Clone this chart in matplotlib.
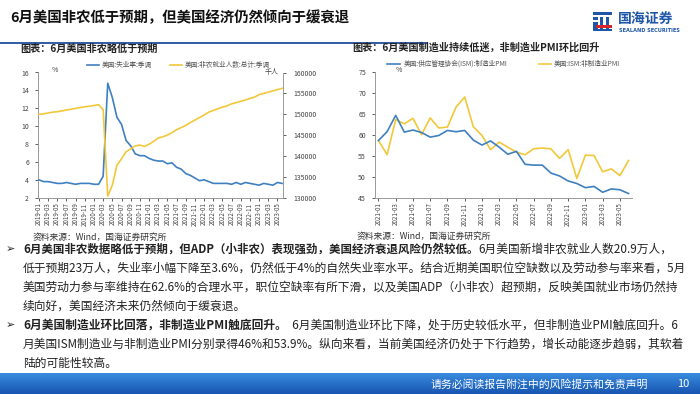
import matplotlib
matplotlib.use("Agg")
import matplotlib.pyplot as plt
from matplotlib.lines import Line2D
from matplotlib.patches import Rectangle
from matplotlib.text import Annotation
import numpy as np

plt.rcParams['font.family'] = ['Noto Sans CJK SC', 'DejaVu Sans']

# ---------------- data ----------------
unemp = [4.0, 3.8, 3.8, 3.7, 3.6, 3.6, 3.7, 3.6, 3.5, 3.6, 3.6, 3.6,
         3.5, 3.5, 4.4, 14.8, 13.2, 11.0, 10.2, 8.4, 7.8, 6.9, 6.7, 6.7,
         6.4, 6.2, 6.1, 6.1, 5.8, 5.9, 5.4, 5.2, 4.7, 4.5, 4.2, 3.9,
         4.0, 3.8, 3.6, 3.6, 3.6, 3.6, 3.5, 3.7, 3.5, 3.7, 3.6, 3.5,
         3.4, 3.6, 3.5, 3.4, 3.7, 3.6]
payroll = [150000, 150100, 150300, 150500, 150600, 150800, 151000, 151200, 151400, 151600, 151800, 151900,
           152100, 152300, 151100, 130400, 133000, 137800, 139300, 141000, 141700, 142400, 142600, 142300,
           142800, 143500, 144300, 144600, 145000, 145600, 146300, 146800, 147300, 148000, 148600, 149200,
           149800, 150500, 150900, 151300, 151700, 152000, 152500, 152800, 153100, 153400, 153800, 154100,
           154700, 155000, 155300, 155600, 155900, 156200]
left_ticklabels = ['2019-01', '2019-03', '2019-05', '2019-07', '2019-09', '2019-11',
                   '2020-01', '2020-03', '2020-05', '2020-07', '2020-09', '2020-11',
                   '2021-01', '2021-03', '2021-05', '2021-07', '2021-09', '2021-11',
                   '2022-01', '2022-03', '2022-05', '2022-07', '2022-09', '2022-11',
                   '2023-01', '2023-03', '2023-05']

ism_mfg = [58.7, 60.8, 64.7, 60.7, 61.2, 60.6, 59.5, 59.9, 61.1, 60.8, 61.1, 58.8,
           57.6, 58.6, 57.1, 55.4, 56.1, 53.0, 52.8, 52.8, 50.9, 50.2, 49.0, 48.4,
           47.4, 47.7, 46.3, 47.1, 46.9, 46.0]
ism_svc = [58.7, 55.3, 63.7, 62.7, 64.0, 60.1, 64.1, 61.7, 61.9, 66.7, 69.1, 62.0,
           59.9, 56.5, 58.3, 57.1, 55.9, 55.3, 56.7, 56.9, 56.7, 54.4, 56.5, 49.6,
           55.2, 55.1, 51.2, 51.9, 50.3, 53.9]
right_ticklabels = ['2021-01', '2021-03', '2021-05', '2021-07', '2021-09', '2021-11',
                    '2022-01', '2022-03', '2022-05', '2022-07', '2022-09', '2022-11',
                    '2023-01', '2023-03', '2023-05']

BLUE = '#3f80c0'
YELLOW = '#f2c83a'
GREY = '#9a9a9a'
TXT = '#222222'

W, H = 700, 394
fig = plt.figure(figsize=(7, 3.94), dpi=100)
fig.patch.set_facecolor('white')


def fx(x):
    return x / W


def fy(y):
    return 1 - y / H


def style_axis(ax):
    for s in ['top', 'right', 'left', 'bottom']:
        ax.spines[s].set_visible(False)
    ax.tick_params(axis='both', labelsize=5, colors='#444444', length=2.5, width=0.6, pad=2)


# ---------------- header ----------------
fig.text(fx(10), fy(18), '6月美国非农低于预期，但美国经济仍然倾向于缓衰退', fontsize=10.4,
         fontweight='bold', color='#111111', va='center', ha='left')
fig.add_artist(Line2D([0, fx(427)], [fy(43), fy(43)], transform=fig.transFigure,
                      color='#1f4e9e', lw=1.3))
# logo
logo_blue = '#1f56a8'
logo_red = '#d9262c'
for (x0, y0, w, h, c) in [(593, 12, 19, 3, logo_blue), (593, 17, 5, 3, logo_blue),
                          (600, 17, 3, 12, logo_blue), (606, 17, 3, 12, logo_blue),
                          (593, 22, 5, 7, logo_blue), (596, 25, 16, 2.5, logo_red),
                          (593, 29, 19, 2, logo_blue)]:
    fig.add_artist(Rectangle((fx(x0), fy(y0 + h)), w / W, h / H, transform=fig.transFigure,
                             color=c, lw=0))
fig.text(fx(618), fy(19), '国海证券', fontsize=10, fontweight='bold', color=logo_blue,
         va='center', ha='left')
fig.text(fx(619), fy(30), 'SEALAND SECURITIES', fontsize=3.6, fontweight='bold',
         color=logo_blue, va='center', ha='left', family='DejaVu Sans')

# ---------------- left chart ----------------
fig.text(fx(20), fy(48.5), '图表：6月美国非农略低于预期', fontsize=7.3, fontweight='bold',
         color='#222222', va='center', ha='left')
ax1 = fig.add_axes([fx(38), fy(197.7), (283 - 38) / W, (197.7 - 72.5) / H])
ax2 = ax1.twinx()
x_left = np.arange(len(unemp))
ax1.plot(x_left, unemp, color=BLUE, lw=1.2, zorder=3)
ax2.plot(x_left, payroll, color=YELLOW, lw=1.2, zorder=2)
ax1.set_xlim(-0.2, len(unemp) - 0.8)
ax1.set_ylim(2, 16)
ax1.set_yticks(range(2, 17, 2))
ax2.set_ylim(130000, 160000)
ax2.set_yticks(range(130000, 160001, 5000))
ax1.set_xticks(range(0, len(unemp), 2))
ax1.set_xticklabels(left_ticklabels, rotation=90)
style_axis(ax1)
style_axis(ax2)
ax1.spines['left'].set_visible(True)
ax1.spines['bottom'].set_visible(True)
ax2.spines['right'].set_visible(True)
for sp in [ax1.spines['left'], ax1.spines['bottom'], ax2.spines['right']]:
    sp.set_color(GREY)
    sp.set_linewidth(0.7)
ax1.tick_params(axis='x', labelsize=4.5, length=2, pad=1.5)
ax1.tick_params(axis='y', pad=4)
ax2.tick_params(axis='y', pad=5)
ax1.patch.set_visible(False)
fig.text(fx(52), fy(70), '%', fontsize=5, color='#444444', va='center', ha='left')
fig.text(fx(279), fy(72), '千人', fontsize=5, color='#444444', va='center', ha='right')
# legend
fig.add_artist(Line2D([fx(87), fx(99)], [fy(64.5), fy(64.5)], transform=fig.transFigure, color=BLUE, lw=1.2))
fig.text(fx(102), fy(64.5), '美国:失业率:季调', fontsize=4.8, color='#555555', va='center', ha='left')
fig.add_artist(Line2D([fx(170), fx(182)], [fy(64.5), fy(64.5)], transform=fig.transFigure, color=YELLOW, lw=1.2))
fig.text(fx(185), fy(64.5), '美国:非农就业人数:总计:季调', fontsize=4.8, color='#555555', va='center', ha='left')
fig.text(fx(33), fy(237), '资料来源：Wind，国海证券研究所', fontsize=6.3, color='#333333', va='center', ha='left')

# ---------------- right chart ----------------
fig.text(fx(352), fy(48), '图表：6月美国制造业持续低迷，非制造业PMI环比回升', fontsize=7.3, fontweight='bold',
         color='#222222', va='center', ha='left')
ax3 = fig.add_axes([fx(375), fy(197.7), (632 - 375) / W, (197.7 - 72.4) / H])
x_right = np.arange(len(ism_mfg))
ax3.plot(x_right, ism_mfg, color=BLUE, lw=1.2, zorder=3)
ax3.plot(x_right, ism_svc, color=YELLOW, lw=1.2, zorder=2)
ax3.set_xlim(-0.4, len(ism_mfg) - 0.6)
ax3.set_ylim(45, 75)
ax3.set_yticks(range(45, 76, 5))
ax3.set_xticks(range(0, len(ism_mfg), 2))
ax3.set_xticklabels(right_ticklabels, rotation=90)
style_axis(ax3)
ax3.spines['left'].set_visible(True)
ax3.spines['bottom'].set_visible(True)
for sp in [ax3.spines['left'], ax3.spines['bottom']]:
    sp.set_color(GREY)
    sp.set_linewidth(0.7)
ax3.tick_params(axis='x', labelsize=4.5, length=2, pad=1.5)
ax3.tick_params(axis='y', pad=4)
fig.text(fx(396), fy(69.5), '%', fontsize=5, color='#444444', va='center', ha='left')
fig.add_artist(Line2D([fx(387), fx(400)], [fy(64), fy(64)], transform=fig.transFigure, color=BLUE, lw=1.2))
fig.text(fx(404), fy(64), '美国:供应管理协会(ISM):制造业PMI', fontsize=4.8, color='#555555', va='center', ha='left')
fig.add_artist(Line2D([fx(539), fx(551)], [fy(64), fy(64)], transform=fig.transFigure, color=YELLOW, lw=1.2))
fig.text(fx(554), fy(64), '美国:ISM:非制造业PMI', fontsize=4.8, color='#555555', va='center', ha='left')
fig.text(fx(357), fy(236), '资料来源：Wind，国海证券研究所', fontsize=6.3, color='#333333', va='center', ha='left')

# ---------------- body text ----------------
BFS = 8.45
bullet_x = 6
text_x = 23


def two_part(y, bold, normal, bold_size):
    t = fig.text(fx(text_x), fy(y), bold, fontsize=bold_size, fontweight='bold', color=TXT,
                 va='center', ha='left')
    fig.text(fx(bullet_x), fy(y), '➢', fontsize=8, color=TXT, va='center', ha='left',
             family=['DejaVu Sans'])
    a = Annotation(normal, xy=(1, 0.5), xycoords=t, va='center', ha='left',
                   fontsize=BFS, color=TXT)
    fig.add_artist(a)


def plain(y, s):
    fig.text(fx(text_x), fy(y), s, fontsize=BFS, color=TXT, va='center', ha='left')


two_part(249, '6月美国非农数据略低于预期，但ADP（小非农）表现强劲，美国经济衰退风险仍然较低。',
         '6月美国新增非农就业人数20.9万人，', 8.25)
plain(268, '低于预期23万人，失业率小幅下降至3.6%，仍然低于4%的自然失业率水平。结合近期美国职位空缺数以及劳动参与率来看，5月')
plain(287, '美国劳动力参与率维持在62.6%的合理水平，职位空缺率有所下滑，以及美国ADP（小非农）超预期，反映美国就业市场仍然持')
plain(306, '续向好，美国经济未来仍然倾向于缓衰退。')
two_part(325, '6月美国制造业环比回落，非制造业PMI触底回升。',
         '  6月美国制造业环比下降，处于历史较低水平，但非制造业PMI触底回升。6', 8.45)
plain(344, '月美国ISM制造业与非制造业PMI分别录得46%和53.9%。纵向来看，当前美国经济仍处于下行趋势，增长动能逐步趋弱，其软着')
plain(363, '陆的可能性较高。')

# ---------------- footer bar ----------------
bar_ax = fig.add_axes([0, 0, 1, 21 / H])
bar_ax.set_axis_off()
top_c = np.array([0x3a, 0x8c, 0xe0]) / 255
bot_c = np.array([0x17, 0x55, 0xb0]) / 255
t = np.linspace(0, 1, 40)[:, None, None]
grad = top_c * (1 - t) + bot_c * t
grad = np.repeat(grad, 10, axis=1)
bar_ax.imshow(grad, aspect='auto', extent=[0, 1, 0, 1])
bar_ax.set_xlim(0, 1)
bar_ax.set_ylim(0, 1)
fig.text(fx(648), fy(384), '请务必阅读报告附注中的风险提示和免责声明', fontsize=7.8, color='white',
         va='center', ha='right')
fig.text(fx(683), fy(384), '10', fontsize=8, color='white', va='center', ha='center')

fig.savefig('out.png', dpi=100)
